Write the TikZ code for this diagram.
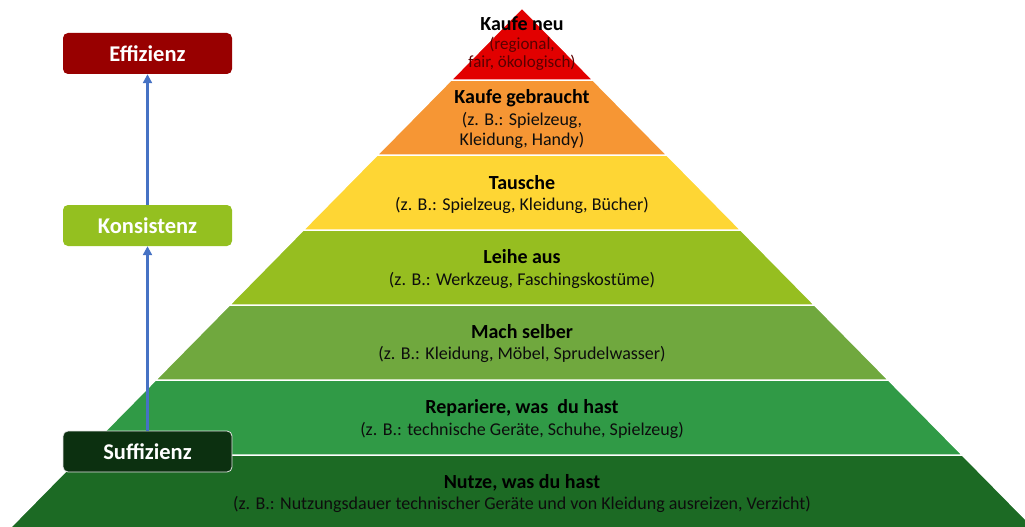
\documentclass[tikz,border=0pt]{standalone}
\usepackage{fontspec}
\setmainfont{Carlito}
\usetikzlibrary{arrows.meta}
\definecolor{cRed}{RGB}{226,0,0}
\definecolor{cOrange}{RGB}{246,150,52}
\definecolor{cYellow}{RGB}{254,214,52}
\definecolor{cLime}{RGB}{150,190,32}
\definecolor{cMid}{RGB}{112,168,62}
\definecolor{cGreen}{RGB}{48,154,70}
\definecolor{cDark}{RGB}{28,106,36}
\definecolor{cEff}{RGB}{152,0,0}
\definecolor{cKon}{RGB}{148,192,32}
\definecolor{cSuf}{RGB}{12,48,16}
\definecolor{cArrow}{RGB}{70,114,196}
\definecolor{cSubRed}{RGB}{90,0,0}
\tikzset{
  band/.style={draw=white,line width=1.5pt,line join=miter},
  ttl/.style={font=\fontsize{20}{24}\selectfont\bfseries,text=black,inner sep=0pt},
  sub/.style={font=\fontsize{18}{21}\selectfont,text=black!95,inner sep=0pt},
  sidebox/.style={rounded corners=5pt,minimum width=169pt,minimum height=41pt,inner sep=0pt,
    text=white,font=\fontsize{22.5}{26}\selectfont\bfseries},
  uparrow/.style={draw=cArrow,line width=2.5pt,-{Triangle[length=9pt,width=9pt]}}
}
\begin{document}
\begin{tikzpicture}[x=1pt,y=-1pt]
\useasboundingbox (0,0) rectangle (1025,527);
\begin{scope}
\clip (0,0) rectangle (1025,527);
\fill[cDark,band]   (81.7,455) -- (962.3,455) -- (1050.9,545) -- (-6.9,545) -- cycle;
\fill[cGreen,band]  (155.6,380) -- (888.4,380) -- (962.3,455) -- (81.7,455) -- cycle;
\fill[cMid,band]    (229.5,305) -- (814.5,305) -- (888.4,380) -- (155.6,380) -- cycle;
\fill[cLime,band]   (303.3,230) -- (740.7,230) -- (814.5,305) -- (229.5,305) -- cycle;
\fill[cYellow,band] (377.2,155) -- (666.8,155) -- (740.7,230) -- (303.3,230) -- cycle;
\fill[cOrange,band] (451.1,80) -- (592.9,80) -- (666.8,155) -- (377.2,155) -- cycle;
\fill[cRed,band]    (522,8) -- (592.9,80) -- (451.1,80) -- cycle;
\end{scope}

% texts
\node[ttl] (t1) at (522,24) {Kaufe neu};
\node[sub,font=\fontsize{17}{20}\selectfont,text=cSubRed] (s1a) at (522,45) {(regional,};
\node[sub,font=\fontsize{17}{20}\selectfont,text=cSubRed] (s1b) at (522,63) {fair, ökologisch)};
\node[ttl] (t2) at (522,98) {Kaufe gebraucht};
\node[sub] (s2a) at (522,120) {(z. B.: Spielzeug,};
\node[sub] (s2b) at (522,140) {Kleidung, Handy)};
\node[ttl] (t3) at (522,183) {Tausche};
\node[sub] (s3) at (522,205) {(z. B.: Spielzeug, Kleidung, Bücher)};
\node[ttl] (t4) at (522,257) {Leihe aus};
\node[sub] (s4) at (522,280) {(z. B.: Werkzeug, Faschingskostüme)};
\node[ttl] (t5) at (522,332) {Mach selber};
\node[sub] (s5) at (522,354) {(z. B.: Kleidung, Möbel, Sprudelwasser)};
\node[ttl] (t6) at (522,408) {Repariere, was\ \ du hast};
\node[sub] (s6) at (522,430) {(z. B.: technische Geräte, Schuhe, Spielzeug)};
\node[ttl] (t7) at (522,483) {Nutze, was du hast};
\node[sub] (s7) at (522,504) {(z. B.: Nutzungsdauer technischer Geräte und von Kleidung ausreizen, Verzicht)};

% side boxes
\node[sidebox,fill=cEff] (eff) at (147.5,53.5) {Effizienz};
\node[sidebox,fill=cKon] (kon) at (147.5,225.5) {Konsistenz};
\node[sidebox,fill=cSuf,draw=white!80!gray,line width=0.8pt] (suf) at (147.5,451.5) {Suffizienz};
\draw[uparrow] (suf.north) -- (kon.south);
\draw[uparrow] (kon.north) -- (eff.south);
\end{tikzpicture}
\end{document}
